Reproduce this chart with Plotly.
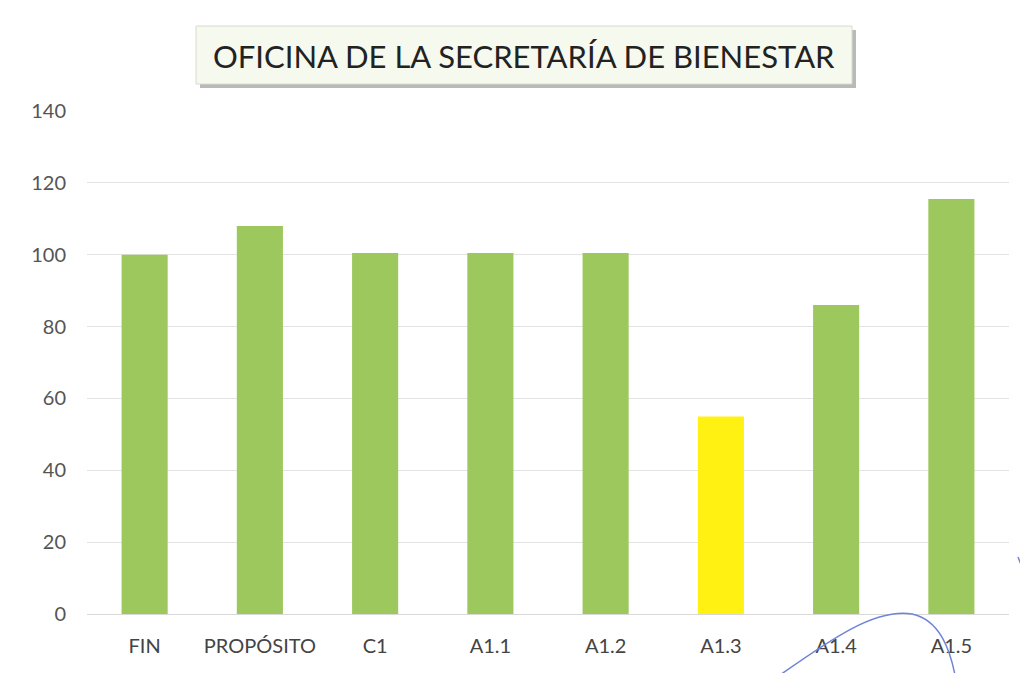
import plotly.graph_objects as go

categories = ["FIN", "PROPÓSITO", "C1", "A1.1", "A1.2", "A1.3", "A1.4", "A1.5"]
values = [100, 108, 100.5, 100.5, 100.5, 55, 86, 115.5]
bar_colors = ["#9DC85E"] * 5 + ["#FFF212"] + ["#9DC85E"] * 2
y_ticks = [0, 20, 40, 60, 80, 100, 120, 140]
title_text = "OFICINA DE LA SECRETARÍA DE BIENESTAR"

OFF = 8  # default body margin of the html page
W, H = 1028 - OFF, 673 - OFF
ml, mr, mt, mb = 87 - OFF, 19, 111 - OFF, 59

fig = go.Figure(go.Bar(x=categories, y=values, marker=dict(color=bar_colors, line=dict(width=0)), width=0.4))

def px_x(v):
    return (v - OFF - ml) / (W - ml - mr)

def px_y(v):
    return 1 - (v - OFF - mt) / (H - mt - mb)

def P(x, y):
    return f"{px_x(x):.5f},{px_y(y):.5f}"

# title box with shadow
bx0, bx1, by0, by1 = 196, 852, 26, 84
fig.add_shape(type="rect", xref="paper", yref="paper",
              x0=px_x(bx0 + 4), x1=px_x(bx1 + 4), y0=px_y(by1 + 4), y1=px_y(by0 + 4),
              fillcolor="#8a8a8a", line=dict(width=0), layer="above", opacity=0.6)
fig.add_shape(type="rect", xref="paper", yref="paper",
              x0=px_x(bx0), x1=px_x(bx1), y0=px_y(by1), y1=px_y(by0),
              fillcolor="#F6F9EE", line=dict(color="#d6dccb", width=1), layer="above")
fig.add_annotation(xref="paper", yref="paper", x=px_x((bx0 + bx1) / 2), y=px_y((by0 + by1) / 2 + 1),
                   text=title_text, showarrow=False,
                   font=dict(family="Lato, Open Sans, sans-serif", size=31, color="#222222"),
                   xanchor="center", yanchor="middle")

# pen strokes (scan artefacts)
path1 = (f"M {P(780, 675)} C {P(830, 640)} {P(875, 608)} {P(912, 614)} "
         f"C {P(940, 620)} {P(950, 650)} {P(955, 675)}")
fig.add_shape(type="path", xref="paper", yref="paper", path=path1,
              line=dict(color="#6f84d8", width=1.5), layer="above")
path2 = f"M {P(1018, 557)} L {P(1028, 582)}"
fig.add_shape(type="path", xref="paper", yref="paper", path=path2,
              line=dict(color="#6f84d8", width=1.5), layer="above")

fig.update_layout(
    width=W, height=H,
    margin=dict(l=ml, r=mr, t=mt, b=mb),
    paper_bgcolor="white", plot_bgcolor="white",
    showlegend=False,
    font=dict(family="Lato, Open Sans, sans-serif", size=20, color="#555555"),
)
fig.update_xaxes(showline=True, linecolor="#d9d9d9", linewidth=1, ticks="",
                 tickfont=dict(size=20, color="#444444"), showgrid=False,
                 ticklabelstandoff=14, automargin=False)
fig.update_yaxes(range=[0, 140], tickvals=y_ticks, showgrid=True, gridcolor="#e3e3e3",
                 gridwidth=1, zeroline=False, showline=False, ticks="",
                 tickfont=dict(size=20, color="#555555"), ticklabelstandoff=20, automargin=False)

fig.write_html("out.html")
